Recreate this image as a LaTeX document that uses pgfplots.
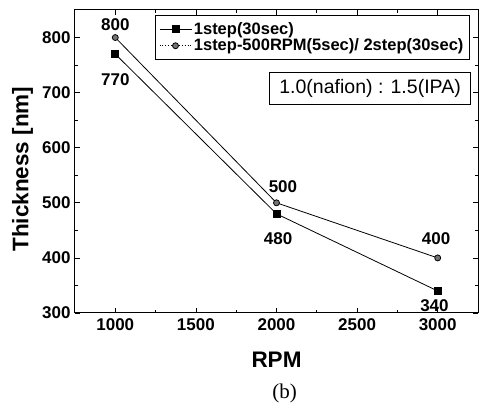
\documentclass[border=0pt]{standalone}
\usepackage{fontspec}
\newfontfamily\af{Liberation Sans}
\newfontfamily\capserif{Liberation Serif}
\usepackage{pgfplots}
\pgfplotsset{compat=1.18}
\begin{document}
\begin{tikzpicture}
\begin{axis}[
  clip=false,
  scale only axis, width=403pt, height=303pt,
  xmin=750, xmax=3250, ymin=300, ymax=850,
  xtick={1000,1500,2000,2500,3000}, ytick={300,400,500,600,700,800},
  minor x tick num=1, minor y tick num=1,
  tick align=inside, major tick length=5pt, minor tick length=3pt,
  tick style={line width=0.8pt, black},
  axis line style={line width=1pt},
  every tick label/.append style={font=\af\bfseries\fontsize{17}{18}\selectfont},
  /pgf/number format/assume math mode=true,
  /pgf/number format/1000 sep={},
  xticklabel style={yshift=-2pt},
  yticklabel style={xshift=-1pt},
  xlabel={RPM}, ylabel={Thickness [nm]},
  label style={font=\af\bfseries\fontsize{22.5}{24}\selectfont},
  xlabel style={at={(axis description cs:0.5,-0.155)}, anchor=center},
  ylabel style={at={(axis description cs:-0.13,0.475)}, anchor=center},
  legend style={at={(rel axis cs:0.98,0.983)}, anchor=north east,
    font=\af\bfseries\fontsize{16.5}{17}\selectfont, draw=black, line width=0.8pt,
    inner xsep=4pt, inner ysep=5pt, row sep=-1pt, cells={anchor=west}},
  legend cell align=left,
  legend image code/.code={\draw[mark repeat=2,mark phase=2] plot coordinates {(0pt,0pt) (16pt,0pt) (32pt,0pt)};},
]
\addplot[black, line width=0.8pt, mark=square*, mark size=3.5pt, mark options={fill=black}]
  coordinates {(1000,770) (2000,480) (3000,340)};
\addlegendentry{1step(30sec)}
\addplot[black, line width=0.8pt, mark=*, mark size=3pt, mark options={fill=black!55, solid},
  legend image post style={dotted}]
  coordinates {(1000,800) (2000,500) (3000,400)};
\addlegendentry{1step-500RPM(5sec)/ 2step(30sec)}
\node[font=\af\bfseries\fontsize{17}{18}\selectfont] at (axis cs:1000,824) {800};
\node[font=\af\bfseries\fontsize{17}{18}\selectfont] at (axis cs:1000,724) {770};
\node[font=\af\bfseries\fontsize{17}{18}\selectfont] at (axis cs:2040,529) {500};
\node[font=\af\bfseries\fontsize{17}{18}\selectfont] at (axis cs:2010,435) {480};
\node[font=\af\bfseries\fontsize{17}{18}\selectfont] at (axis cs:2990,435) {400};
\node[font=\af\bfseries\fontsize{17}{18}\selectfont] at (axis cs:2980,313) {340};
\node[draw=black, line width=0.8pt, anchor=north east, inner xsep=10pt, inner ysep=7pt,
  font=\af\fontsize{19.5}{20}\selectfont] at (rel axis cs:0.983,0.795) {1.0(nafion) : 1.5(IPA)};
\node[font=\capserif\fontsize{21}{22}\selectfont] at (rel axis cs:0.52,-0.267) {(b)};
\end{axis}
\path[use as bounding box] (-75pt,-93pt) rectangle (404pt,313pt);
\end{tikzpicture}
\end{document}
